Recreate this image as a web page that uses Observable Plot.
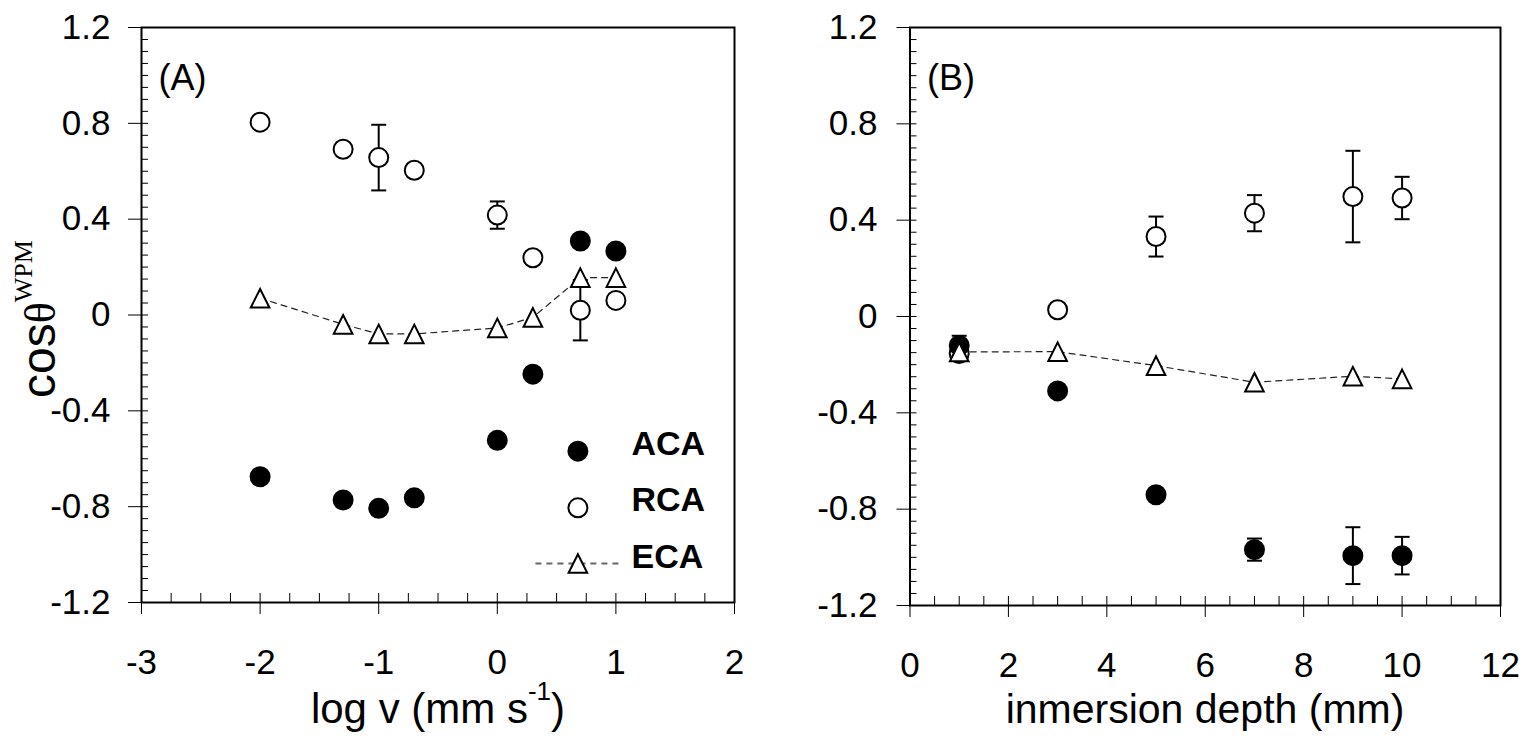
<!DOCTYPE html>
<html><head><meta charset="utf-8">
<script src="https://cdn.jsdelivr.net/npm/d3@7"></script>
<script src="https://cdn.jsdelivr.net/npm/@observablehq/plot@0.6"></script>
<style>
body{margin:0;background:#fff;}
#wrap{position:relative;width:1531px;height:738px;overflow:hidden;background:#fff;}
#wrap > svg{position:absolute;top:0;}
</style></head><body><div id="wrap"></div>
<script>
// ---------- data ----------
// Panel A: log v (mm s-1)
const logV    = [-2, -1.3, -1, -0.7, 0, 0.3, 0.7, 1];
const acaA    = [-0.675, -0.772, -0.807, -0.763, -0.523, -0.247, 0.309, 0.267];
const rcaA    = [0.805, 0.692, 0.657, 0.604, 0.417, 0.239, 0.020, 0.061];
const rcaAErr = [0, 0, 0.137, 0, 0.057, 0, 0.126, 0];
const ecaA    = [0.070, -0.039, -0.079, -0.079, -0.054, -0.010, 0.156, 0.156];
// Panel B: inmersion depth (mm)
const depth   = [1, 3, 5, 7, 9, 10];
const acaB    = [-0.120, -0.309, -0.740, -0.968, -0.993, -0.993];
const acaBErr = [0.040, 0, 0, 0.046, 0.118, 0.078];
const rcaB    = [-0.154, 0.028, 0.332, 0.429, 0.498, 0.492];
const rcaBErr = [0, 0, 0.083, 0.075, 0.190, 0.088];
const ecaB    = [-0.147, -0.146, -0.204, -0.273, -0.248, -0.259];
// ticks
const yTicks  = [-1.2, -0.8, -0.4, 0, 0.4, 0.8, 1.2];
const xTicksA = [-3, -2, -1, 0, 1, 2];
const xTicksB = [0, 2, 4, 6, 8, 10, 12];
const seriesNames = ["ACA", "RCA", "ECA"];
const panelNames = ["(A)", "(B)"];

// ---------- helpers ----------
const FONT = "'Liberation Sans', Arial, Helvetica, sans-serif";
const triangleSym = {draw(ctx, size) {const r = Math.sqrt(size / Math.PI); ctx.moveTo(0, -r); ctx.lineTo(r, r); ctx.lineTo(-r, r); ctx.closePath();}};
const hlineSym = {draw(ctx, size) {const r = Math.sqrt(size / Math.PI); ctx.moveTo(-r, 0); ctx.lineTo(r, 0);}};
const yMinor = d3.range(-24, 25).map(i => i * 0.05);

function rows(xs, aca, acaErr, rca, rcaErr, eca) {
  return xs.map((x, i) => ({x, aca: aca[i], acaErr: acaErr ? acaErr[i] : 0, rca: rca[i], rcaErr: rcaErr[i], eca: eca[i]}));
}
function errMarks(data, key, errKey) {
  const d = data.filter(r => r[errKey] > 0);
  return [
    Plot.ruleX(d, {x: "x", y1: r => r[key] - r[errKey], y2: r => r[key] + r[errKey], stroke: "black", strokeWidth: 2}),
    Plot.dot(d, {x: "x", y: r => r[key] + r[errKey], symbol: hlineSym, r: 7.5, stroke: "black", strokeWidth: 2, fill: "none"}),
    Plot.dot(d, {x: "x", y: r => r[key] - r[errKey], symbol: hlineSym, r: 7.5, stroke: "black", strokeWidth: 2, fill: "none"})
  ];
}
function panel({data, xDomain, xTicks, xMinor, width, mL, mR, mT, mB, yPad, label, legend}) {
  const marks = [
    Plot.axisY({ticks: yTicks, tickSize: 13, tickPadding: yPad, tickFormat: d => d === 0 ? "0" : d.toFixed(1), label: null, stroke: "black"}),
    Plot.axisY({ticks: yMinor, tickSize: -7, fill: "none", label: null, stroke: "black"}),
    Plot.axisX({ticks: xTicks, tickSize: 12, tickPadding: 35, tickFormat: d => String(d), label: null, stroke: "black"}),
    Plot.axisX({ticks: xMinor, tickSize: -9, fill: "none", label: null, stroke: "black"}),
    ...errMarks(data, "rca", "rcaErr"),
    ...errMarks(data, "aca", "acaErr"),
    Plot.dot(data, {x: "x", y: "rca", r: 9.5, fill: "white", stroke: "black", strokeWidth: 2}),
    Plot.dot(data, {x: "x", y: "aca", r: 9.5, fill: "black", stroke: "black", strokeWidth: 2}),
    Plot.line(data, {x: "x", y: "eca", stroke: "#222", strokeWidth: 1.2, strokeDasharray: "6,5"}),
    Plot.dot(data, {x: "x", y: "eca", symbol: triangleSym, r: 9.3, fill: "white", stroke: "black", strokeWidth: 2}),
    Plot.text([label], {text: d => d, frameAnchor: "top-left", dx: 17, dy: 37.4, lineAnchor: "top", textAnchor: "start", fontSize: 36})
  ];
  if (legend) {
    const lx = -156.6, dotDys = [-151.3, -94.7, -39], textDys = [-147.2, -91.2, -34.9];
    marks.push(
      Plot.dot([seriesNames[2]], {frameAnchor: "bottom-right", dx: lx, dy: dotDys[2], symbol: hlineSym, r: 42.5, fill: "none", stroke: "#666", strokeWidth: 1.8, strokeDasharray: "6,5"}),
      Plot.dot([seriesNames[0]], {frameAnchor: "bottom-right", dx: lx, dy: dotDys[0], r: 9.5, fill: "black", stroke: "black", strokeWidth: 2}),
      Plot.dot([seriesNames[1]], {frameAnchor: "bottom-right", dx: lx, dy: dotDys[1], r: 9.5, fill: "white", stroke: "black", strokeWidth: 2}),
      Plot.dot([seriesNames[2]], {frameAnchor: "bottom-right", dx: lx, dy: dotDys[2], symbol: triangleSym, r: 9.3, fill: "white", stroke: "black", strokeWidth: 2})
    );
    seriesNames.forEach((n, i) => marks.push(Plot.text([n], {text: d => d, frameAnchor: "bottom-right", dx: -103, dy: textDys[i], textAnchor: "start", fontWeight: "bold", fontSize: 34})));
  }
  marks.push(Plot.frame({stroke: "black", strokeWidth: 2}));
  return Plot.plot({
    width, height: 738,
    marginLeft: mL, marginRight: mR, marginTop: mT, marginBottom: mB,
    x: {domain: xDomain},
    y: {domain: [-1.2, 1.2]},
    style: {fontFamily: FONT, fontSize: "35px", color: "black", background: "transparent", overflow: "visible"},
    marks
  });
}

const wrap = document.getElementById("wrap");
const pA = panel({
  data: rows(logV, acaA, null, rcaA, rcaAErr, ecaA),
  xDomain: [-3, 2], xTicks: xTicksA, xMinor: d3.range(-12, 9).map(i => i * 0.25),
  width: 760, mL: 141, mR: 26, mT: 27, mB: 136, yPad: 18, label: panelNames[0], legend: true
});
pA.style.left = "0px";
wrap.appendChild(pA);
const pB = panel({
  data: rows(depth, acaB, acaBErr, rcaB, rcaBErr, ecaB),
  xDomain: [0, 12], xTicks: xTicksB, xMinor: d3.range(0, 25).map(i => i * 0.5),
  width: 771, mL: 149.5, mR: 31, mT: 27, mB: 133, yPad: 19.5, label: panelNames[1], legend: false
});
pB.style.left = "760px";
wrap.appendChild(pB);

// ---------- axis titles ----------
const ns = "http://www.w3.org/2000/svg";
const ov = document.createElementNS(ns, "svg");
ov.setAttribute("width", 1531); ov.setAttribute("height", 738);
ov.style.left = "0px"; ov.style.pointerEvents = "none";
ov.innerHTML = `
<text transform="translate(55,398) rotate(-90)" font-family="Liberation Sans, Arial, sans-serif" font-size="48" fill="black">cos<tspan font-family="Liberation Serif, Times New Roman, serif" font-size="44">θ</tspan><tspan font-family="Liberation Serif, Times New Roman, serif" font-size="26" dy="-23">WPM</tspan></text>
<text x="438" y="723" text-anchor="middle" font-family="Liberation Sans, Arial, sans-serif" font-size="42" fill="black">log v (mm s<tspan font-size="26" dy="-23">-1</tspan><tspan dy="23">)</tspan></text>
<text x="1205" y="723" text-anchor="middle" font-family="Liberation Sans, Arial, sans-serif" font-size="41" fill="black">inmersion depth (mm)</text>
`;
wrap.appendChild(ov);
</script>
</body></html>
